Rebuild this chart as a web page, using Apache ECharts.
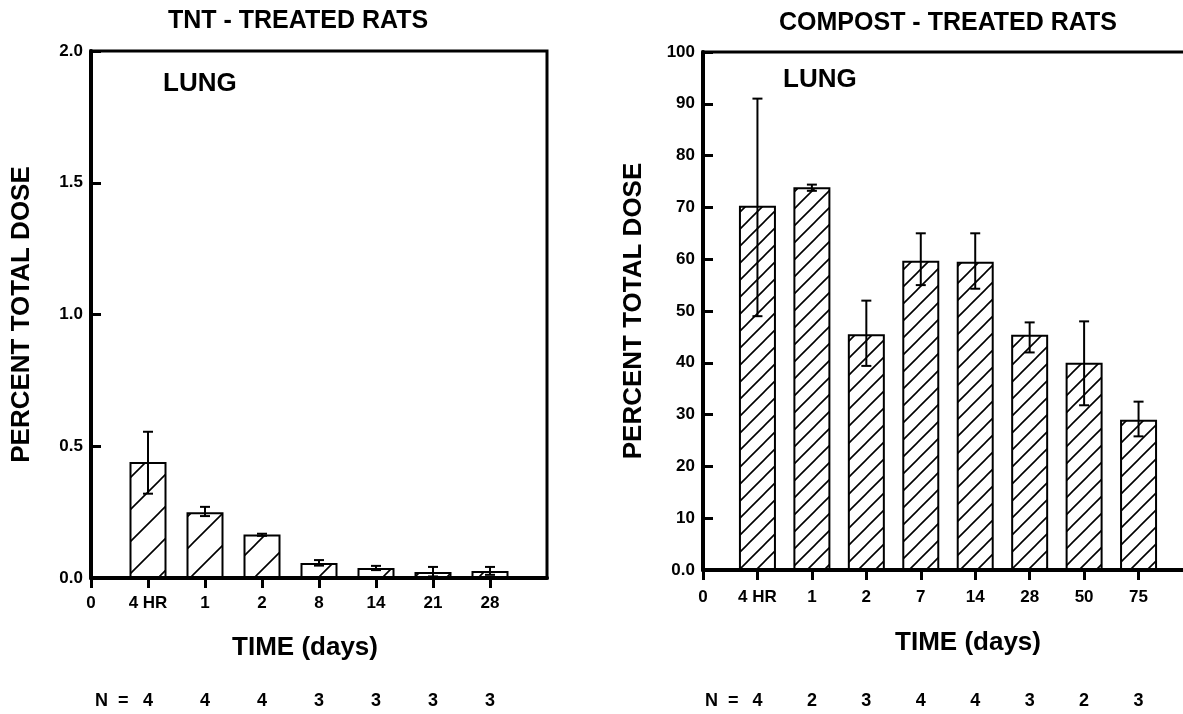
<!DOCTYPE html>
<html>
<head>
<meta charset="utf-8">
<title>Lung - percent total dose</title>
<script src="https://cdn.jsdelivr.net/npm/echarts@6/dist/echarts.min.js"></script>
<style>
  html, body { margin: 0; padding: 0; background: #fff; }
  #chart { width: 1183px; height: 714px; }
</style>
</head>
<body>
<div id="chart"></div>
<script>
// TNT - treated rats
const tntTimes = ['4 HR', '1', '2', '8', '14', '21', '28'];
const tntMean = [0.44, 0.25, 0.165, 0.057, 0.038, 0.023, 0.027];
const tntErrLow = [0.32, 0.235, 0.16, 0.047, 0.03, 0.006, 0.012];
const tntErrHigh = [0.555, 0.27, 0.168, 0.068, 0.046, 0.042, 0.042];
const tntN = [4, 4, 4, 3, 3, 3, 3];

// compost - treated rats
const compostTimes = ['4 HR', '1', '2', '7', '14', '28', '50', '75'];
const compostMean = [70.3, 73.9, 45.5, 59.7, 59.5, 45.4, 40.0, 29.0];
const compostErrLow = [49, 73.2, 39.4, 55, 54.3, 42, 31.8, 25.8];
const compostErrHigh = [91, 74.4, 52, 65, 65, 47.8, 48, 32.5];
const compostN = [4, 2, 3, 4, 4, 3, 2, 3];

const FONT = '"Liberation Sans", Arial, Helvetica, sans-serif';

// diagonal "/" hatch used to fill the bars
function hatch(step) {
  const c = document.createElement('canvas');
  c.width = step;
  c.height = step;
  const g = c.getContext('2d');
  g.fillStyle = '#fff';
  g.fillRect(0, 0, step, step);
  g.strokeStyle = '#000';
  g.lineWidth = 1.6;
  g.beginPath();
  for (const o of [-step, 0, step]) {
    g.moveTo(o - 1, step + 1);
    g.lineTo(o + step + 1, -1);
  }
  g.stroke();
  return c;
}

function renderErr(params, api) {
  const x = api.value(0);
  const lo = api.coord([x, api.value(1)]);
  const hi = api.coord([x, api.value(2)]);
  const cap = 5;
  const style = { stroke: '#000', lineWidth: 2 };
  return {
    type: 'group',
    children: [
      { type: 'line', shape: { x1: lo[0], y1: lo[1], x2: hi[0], y2: hi[1] }, style },
      { type: 'line', shape: { x1: hi[0] - cap, y1: hi[1], x2: hi[0] + cap, y2: hi[1] }, style },
      { type: 'line', shape: { x1: lo[0] - cap, y1: lo[1], x2: lo[0] + cap, y2: lo[1] }, style }
    ]
  };
}

const labelStyle = { color: '#000', fontWeight: 'bold', fontSize: 17, fontFamily: FONT };
const nameStyle = { color: '#000', fontWeight: 'bold', fontSize: 26, fontFamily: FONT };

function timeAxis(gridIndex, times, margin, nameGap, namePadding) {
  return {
    type: 'category',
    gridIndex,
    data: ['0', ...times, ''],
    boundaryGap: false,
    position: 'bottom',
    axisLine: { lineStyle: { color: '#000', width: 4 } },
    axisTick: { length: 10, interval: (i, v) => v !== '', lineStyle: { color: '#000', width: 3 } },
    axisLabel: { ...labelStyle, interval: 0, margin },
    splitLine: { show: false },
    name: 'TIME (days)',
    nameLocation: 'middle',
    nameGap,
    nameTextStyle: { ...nameStyle, padding: namePadding }
  };
}

function nAxis(gridIndex, ns, margin) {
  return {
    type: 'category',
    gridIndex,
    data: ['', ...ns.map(String), ''],
    boundaryGap: false,
    position: 'bottom',
    axisLine: { show: false },
    axisTick: { show: false },
    axisLabel: { ...labelStyle, fontSize: 18, interval: 0, margin },
    splitLine: { show: false }
  };
}

function doseAxis(gridIndex, max, interval, fmt) {
  return {
    type: 'value',
    gridIndex,
    min: 0,
    max,
    interval,
    axisLine: { show: true, lineStyle: { color: '#000', width: 4 } },
    axisTick: { show: true, inside: true, length: 10, lineStyle: { color: '#000', width: 3 } },
    axisLabel: { ...labelStyle, margin: 8, formatter: fmt },
    splitLine: { show: false },
    name: 'PERCENT TOTAL DOSE',
    nameLocation: 'middle',
    nameGap: 56,
    nameTextStyle: nameStyle
  };
}

function errData(low, high) {
  return low.map((v, i) => [i + 1, v, high[i]]);
}

const chart = echarts.init(document.getElementById('chart'));

chart.setOption({
  animation: false,
  backgroundColor: '#fff',
  textStyle: { fontFamily: FONT },
  grid: [
    { left: 91, top: 51, width: 456, height: 527, show: true, borderColor: '#000', borderWidth: 3, outerBoundsMode: 'none' },
    { left: 703, top: 52, width: 490, height: 518, show: true, borderColor: '#000', borderWidth: 3, outerBoundsMode: 'none' }
  ],
  xAxis: [
    timeAxis(0, tntTimes, 17, 57, [0, 28, 0, 0]),
    timeAxis(1, compostTimes, 19, 60, [0, 0, 0, 40]),
    nAxis(0, tntN, 114),
    nAxis(1, compostN, 122)
  ],
  yAxis: [
    doseAxis(0, 2, 0.5, v => v.toFixed(1)),
    doseAxis(1, 100, 10, v => (v === 0 ? '0.0' : String(v)))
  ],
  graphic: [
    { type: 'text', x: 298, y: 21, style: { text: 'TNT - TREATED RATS', font: 'bold 25px ' + FONT, align: 'center', verticalAlign: 'middle', fill: '#000' } },
    { type: 'text', x: 948, y: 23, style: { text: 'COMPOST - TREATED RATS', font: 'bold 25px ' + FONT, align: 'center', verticalAlign: 'middle', fill: '#000' } },
    { type: 'text', x: 163, y: 84, style: { text: 'LUNG', font: 'bold 26px ' + FONT, align: 'left', verticalAlign: 'middle', fill: '#000' } },
    { type: 'text', x: 783, y: 80, style: { text: 'LUNG', font: 'bold 26px ' + FONT, align: 'left', verticalAlign: 'middle', fill: '#000' } },
    { type: 'text', x: 95, y: 701, style: { text: 'N  =', font: 'bold 18px ' + FONT, align: 'left', verticalAlign: 'middle', fill: '#000' } },
    { type: 'text', x: 705, y: 701, style: { text: 'N  =', font: 'bold 18px ' + FONT, align: 'left', verticalAlign: 'middle', fill: '#000' } }
  ],
  series: [
    {
      type: 'bar',
      xAxisIndex: 0,
      yAxisIndex: 0,
      data: [null, ...tntMean, null],
      barWidth: 37,
      itemStyle: { color: { image: hatch(32), repeat: 'repeat' }, borderColor: '#000', borderWidth: 2 }
    },
    {
      type: 'custom',
      xAxisIndex: 0,
      yAxisIndex: 0,
      renderItem: renderErr,
      encode: { x: 0, y: [1, 2] },
      data: errData(tntErrLow, tntErrHigh),
      z: 5
    },
    {
      type: 'bar',
      xAxisIndex: 1,
      yAxisIndex: 1,
      data: [null, ...compostMean, null],
      barWidth: 37,
      itemStyle: { color: { image: hatch(17), repeat: 'repeat' }, borderColor: '#000', borderWidth: 2 }
    },
    {
      type: 'custom',
      xAxisIndex: 1,
      yAxisIndex: 1,
      renderItem: renderErr,
      encode: { x: 0, y: [1, 2] },
      data: errData(compostErrLow, compostErrHigh),
      z: 5
    }
  ]
});
</script>
</body>
</html>
